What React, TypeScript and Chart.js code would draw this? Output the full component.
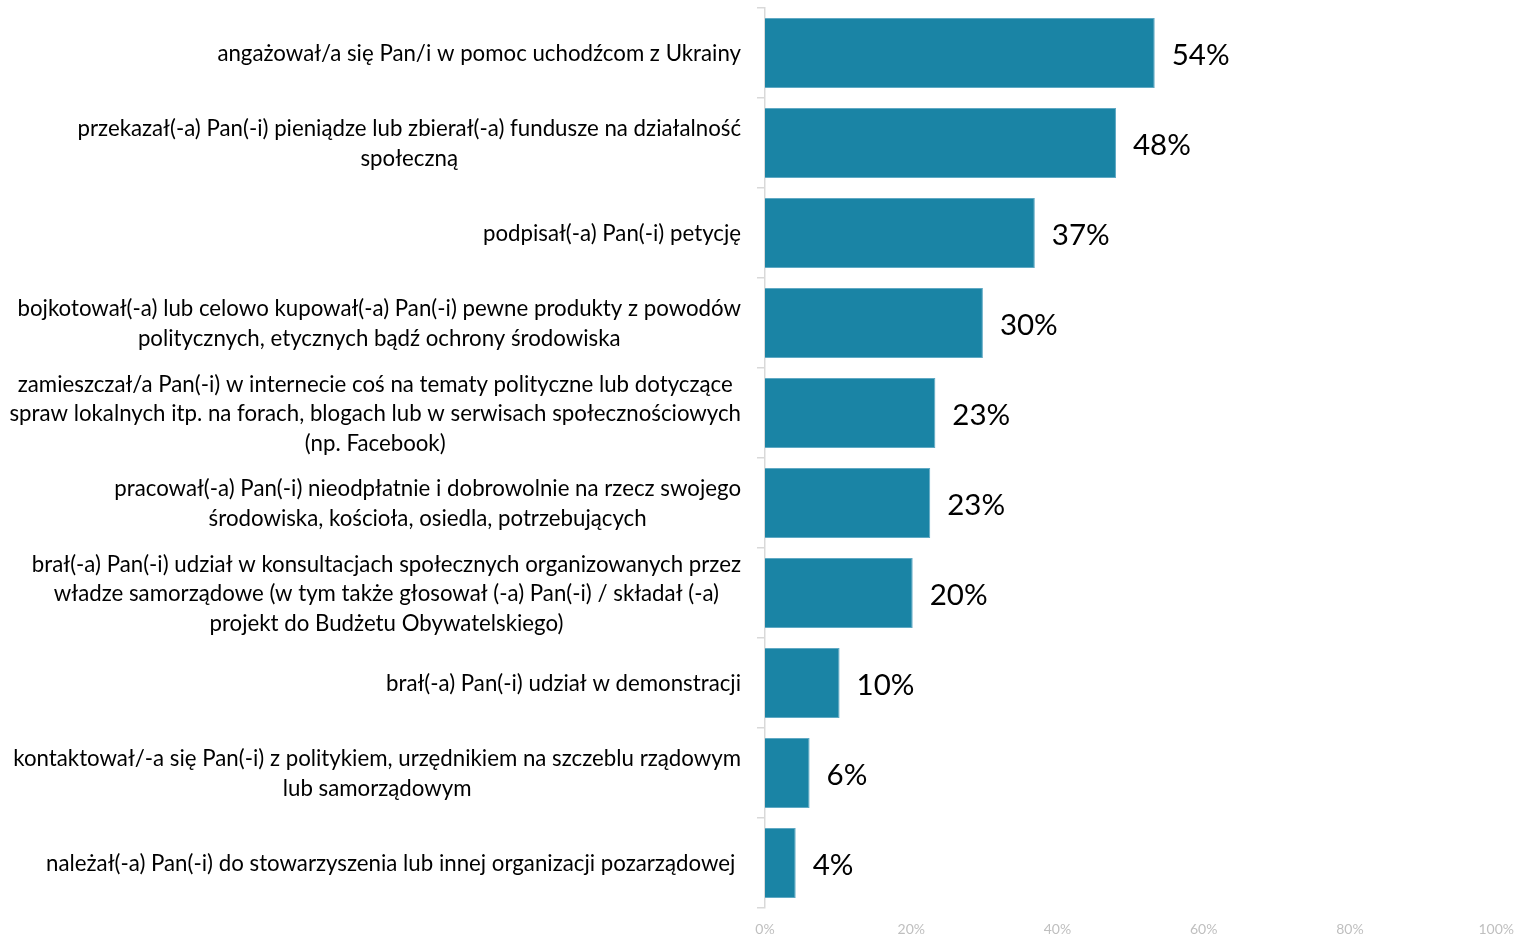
import React, { useEffect, useRef } from "react";
import { Chart, registerables } from "chart.js";

Chart.register(...registerables);

const categories: string[][] = [
  ["angażował/a się Pan/i w pomoc uchodźcom z Ukrainy"],
  ["przekazał(-a) Pan(-i) pieniądze lub zbierał(-a) fundusze na działalność", "społeczną"],
  ["podpisał(-a) Pan(-i) petycję"],
  ["bojkotował(-a) lub celowo kupował(-a) Pan(-i) pewne produkty z powodów", "politycznych, etycznych bądź ochrony środowiska"],
  ["zamieszczał/a Pan(-i) w internecie coś na tematy polityczne lub dotyczące", "spraw lokalnych itp. na forach, blogach lub w serwisach społecznościowych", "(np. Facebook)"],
  ["pracował(-a) Pan(-i) nieodpłatnie i dobrowolnie na rzecz swojego", "środowiska, kościoła, osiedla, potrzebujących"],
  ["brał(-a) Pan(-i) udział w konsultacjach społecznych organizowanych przez", "władze samorządowe (w tym także głosował (-a) Pan(-i) / składał (-a)", "projekt do Budżetu Obywatelskiego)"],
  ["brał(-a) Pan(-i) udział w demonstracji"],
  ["kontaktował/-a się Pan(-i) z politykiem, urzędnikiem na szczeblu rządowym", "lub samorządowym"],
  ["należał(-a) Pan(-i) do stowarzyszenia lub innej organizacji pozarządowej "],
];

const values: number[] = [53.3, 48.0, 36.9, 29.8, 23.3, 22.6, 20.2, 10.2, 6.1, 4.2];
const valueLabels: string[] = ["54%", "48%", "37%", "30%", "23%", "23%", "20%", "10%", "6%", "4%"];
const xTicks: number[] = [0, 20, 40, 60, 80, 100];

const LABEL_FONT = "22.25px Lato";
const VALUE_FONT = "29.5px Lato";

const labelPlugin = {
  id: "customLabels",
  afterDraw(chart: any) {
    const ctx = chart.ctx;
    const yScale = chart.scales.y;
    const meta = chart.getDatasetMeta(0);
    ctx.save();
    ctx.font = LABEL_FONT;
    ctx.fillStyle = "#000000";
    ctx.textBaseline = "middle";
    ctx.textAlign = "center";
    const lineH = 29.5;
    categories.forEach((lines, i) => {
      const yc = yScale.getPixelForValue(i) + 1;
      const maxW = Math.max(...lines.map((l) => ctx.measureText(l).width));
      const right = chart.chartArea.left - 24;
      const cx = right - maxW / 2;
      const y0 = yc - ((lines.length - 1) * lineH) / 2;
      lines.forEach((l, j) => ctx.fillText(l, cx, y0 + j * lineH));
    });
    ctx.font = VALUE_FONT;
    ctx.textAlign = "left";
    meta.data.forEach((bar: any, i: number) => {
      ctx.fillText(valueLabels[i], bar.x + 17, bar.y + 2);
    });
    ctx.restore();
  },
};

export default function App() {
  const canvasRef = useRef<HTMLCanvasElement | null>(null);
  useEffect(() => {
    document.body.style.margin = "0";
    const canvas = canvasRef.current;
    if (!canvas) return;
    const chart = new Chart(canvas, {
      type: "bar",
      data: {
        labels: categories.map((c) => c.join(" ")),
        datasets: [
          {
            data: values,
            backgroundColor: "#1A84A5",
            borderColor: "#5FA9C4",
            borderWidth: 1,
            barPercentage: 0.78,
            categoryPercentage: 1,
          },
        ],
      },
      options: {
        indexAxis: "y",
        animation: false,
        responsive: false,
        maintainAspectRatio: false,
        layout: { padding: { top: 8, right: 20, left: 0, bottom: 0 } },
        plugins: { legend: { display: false }, tooltip: { enabled: false }, title: { display: false } },
        scales: {
          x: {
            min: 0,
            max: 100,
            afterBuildTicks: (scale: any) => {
              scale.ticks = xTicks.map((v) => ({ value: v }));
            },
            afterFit: (scale: any) => {
              scale.height = 27;
            },
            afterSetDimensions: (scale: any) => {
              scale.paddingRight = 0;
            },
            grid: { display: false },
            border: { display: false },
            ticks: {
              color: "#BFBFBF",
              font: { family: "Lato", size: 14 },
              padding: 5,
              callback: (v: any) => v + "%",
            },
          },
          y: {
            afterFit: (scale: any) => {
              scale.width = 765;
            },
            grid: {
              display: true,
              drawOnChartArea: false,
              drawTicks: true,
              tickLength: 8,
              color: "#D9D9D9",
              lineWidth: 1.5,
              offset: true,
            },
            border: { display: true, color: "#D9D9D9", width: 1.5 },
            ticks: { display: false },
          },
        },
      },
      plugins: [labelPlugin],
    });
    return () => chart.destroy();
  }, []);
  return (
    <div style={{ width: 1519, height: 935 }}>
      <canvas ref={canvasRef} width={1519} height={935} style={{ display: "block" }} />
    </div>
  );
}
